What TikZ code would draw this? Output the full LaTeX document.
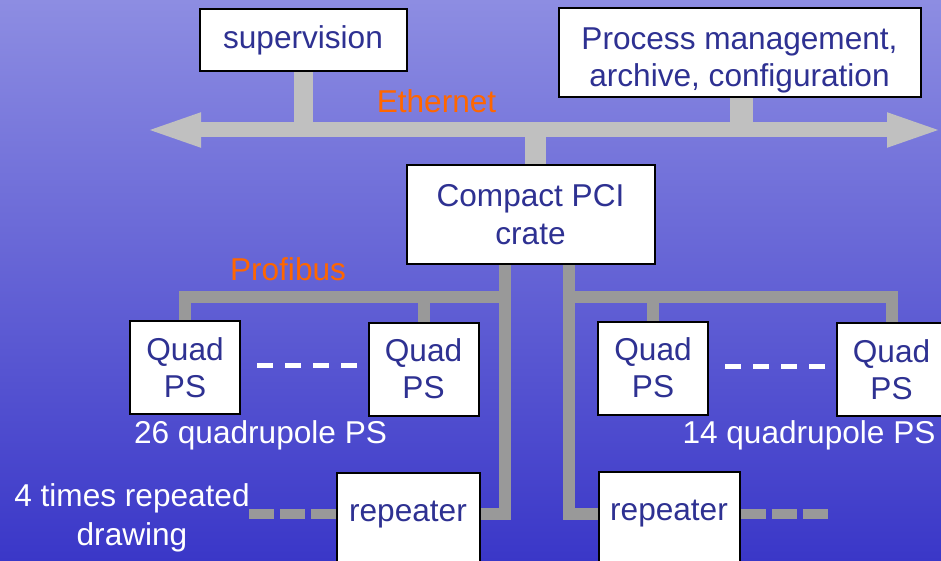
\documentclass[tikz,border=0pt]{standalone}
\usepackage{fontspec}
\setmainfont{Liberation Sans}
\usetikzlibrary{arrows.meta,calc}
\definecolor{bgtop}{RGB}{141,141,226}
\definecolor{bgbot}{RGB}{58,55,200}
\definecolor{navy}{RGB}{46,49,146}
\definecolor{ethgray}{RGB}{192,192,192}
\definecolor{pbgray}{RGB}{153,153,153}
\definecolor{busorange}{RGB}{255,102,0}
\pgfdeclarelayer{back}
\pgfdeclarelayer{mid}
\pgfsetlayers{back,mid,main}
\begin{document}
\begin{tikzpicture}[x=1pt,y=-1pt,
  box/.style={draw=black, line width=2pt, fill=white, text=navy, inner sep=0pt,
    align=center, font=\fontsize{31.6}{37}\selectfont},
  quadbox/.style={box, minimum width=110pt, minimum height=93pt},
  repbox/.style={box, anchor=north, text height=48pt, text depth=50pt},
  wlabel/.style={text=white, inner sep=0pt, align=center, font=\fontsize{31.6}{39}\selectfont},
  buslabel/.style={text=busorange, inner sep=0pt, anchor=base, font=\fontsize{31.6}{37}\selectfont},
  ethline/.style={ethgray, line width=#1},
  pbline/.style={pbgray, line width=12pt, line join=miter},
  wdash/.style={white, line width=5pt, dash pattern=on 16pt off 12pt},
  gdash/.style={pbgray, line width=10pt, dash pattern=on 25pt off 6pt}]
\useasboundingbox (0,0) rectangle (941,561);
\begin{pgfonlayer}{back}
  \shade[top color=bgtop, bottom color=bgbot] (0,0) rectangle (941,561);
\end{pgfonlayer}

% boxes
\node[box, minimum width=207pt, minimum height=62pt] (sup) at (303,40) {supervision};
\node[box, minimum width=362pt, minimum height=89pt] (proc) at (739.5,53)
  {\rule{0pt}{31pt}Process management,\\\smash{archive, configuration}};
\node[box, minimum width=248pt, minimum height=98pt, font=\fontsize{31.6}{38}\selectfont] (cpci) at (530.5,214.5) {Compact PCI\\crate};
\node[quadbox] (q1) at (185,367.5) {Quad\\PS};
\node[quadbox] (q2) at (423.5,369) {Quad\\PS};
\node[quadbox] (q3) at (653,368) {Quad\\PS};
\node[quadbox] (q4) at (891.5,369.5) {Quad\\PS};
\node[repbox, minimum width=143pt] (rep1) at (408,472) {repeater};
\node[repbox, minimum width=141pt] (rep2) at (669,471) {repeater};

% labels
\node[buslabel] (eth) at (436.5,113) {Ethernet};
\node[buslabel] (pb) at (288,280) {Profibus};
\node[wlabel, anchor=base] (n26) at (260.5,443) {26 quadrupole PS};
\node[wlabel, anchor=base] (n14) at (809,443) {14 quadrupole PS};
\node[wlabel] (rept) at (132,517.5) {4 times repeated\\drawing};

% coordinates
\coordinate (ethL) at (143,130);
\coordinate (ethR) at (945,130);
\coordinate (procstem) at ($(proc.south)+(2,0)$);
\coordinate (cpcistem) at ($(cpci.north)+(5,0)$);
\coordinate (lt) at (505,296.5);
\coordinate (lb) at (505,513.5);
\coordinate (rt) at (569,296.5);
\coordinate (rb) at (569,513.5);
\coordinate (dl) at (248,514);
\coordinate (dr) at (830,514);
\coordinate (w1a) at (257,365);
\coordinate (w1b) at (357,365);
\coordinate (w2a) at (725,366);
\coordinate (w2b) at (825,366);

\begin{pgfonlayer}{mid}
  % Ethernet
  \draw[ethline=15pt, {Triangle[length=58pt,width=30pt]}-{Triangle[length=58pt,width=30pt]}] (ethL) -- (ethR);
  \draw[ethline=19pt] (sup.south) -- (sup.south |- ethL);
  \draw[ethline=23pt] (procstem) -- (procstem |- ethL);
  \draw[ethline=21pt] (cpcistem) -- (cpcistem |- ethL);
  % Profibus left
  \draw[pbline] (q1.north) |- (lt);
  \draw[pbline] (q2.north) -- (q2.north |- lt);
  \draw[pbline] (cpci.south -| lt) -- (lb) -- (rep1.east |- lb);
  % Profibus right
  \draw[pbline] (rt) -| (q4.north);
  \draw[pbline] (q3.north) -- (q3.north |- rt);
  \draw[pbline] (cpci.south -| rt) -- (rb) -- (rep2.west |- rb);
  % repeated drawing
  \draw[gdash] (rep1.west |- dl) -- (dl);
  \draw[gdash] (rep2.east |- dr) -- (dr);
  % white dashes between quads
  \draw[wdash] (w1a) -- (w1b);
  \draw[wdash] (w2a) -- (w2b);
\end{pgfonlayer}
\end{tikzpicture}
\end{document}
